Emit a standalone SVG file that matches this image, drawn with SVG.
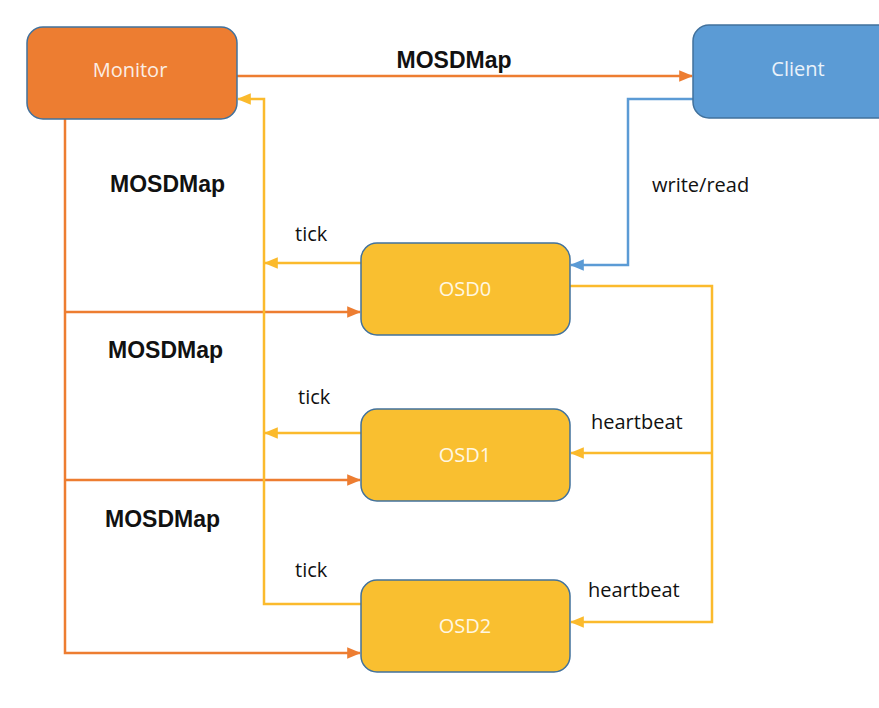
<svg xmlns="http://www.w3.org/2000/svg" width="879" height="708" viewBox="0 0 879 708">
<style>
.node rect{stroke:#41719C;stroke-width:1.5}
.ntxt{font-family:"Open Sans","Liberation Sans",sans-serif;font-size:20px;text-anchor:middle}
.lbl{font-family:"Open Sans","Liberation Sans",sans-serif;font-size:20px;fill:#111}
.big{font-family:"Liberation Sans",Arial,sans-serif;font-size:23px;font-weight:bold;fill:#111}
.c{fill:none;stroke-width:2.5}
.o{stroke:#ED7D31}
.y{stroke:#FBBA2C}
.b{stroke:#5B9BD5}
</style>
<defs>
<marker id="ao" markerUnits="userSpaceOnUse" markerWidth="14" markerHeight="14" viewBox="0 0 12 12" refX="11" refY="6" orient="auto"><path d="M0,1 L12,6 L0,11 Z" fill="#ED7D31"/></marker>
<marker id="ay" markerUnits="userSpaceOnUse" markerWidth="14" markerHeight="14" viewBox="0 0 12 12" refX="11" refY="6" orient="auto"><path d="M0,1 L12,6 L0,11 Z" fill="#FBBA2C"/></marker>
<marker id="ab" markerUnits="userSpaceOnUse" markerWidth="14" markerHeight="14" viewBox="0 0 12 12" refX="11" refY="6" orient="auto"><path d="M0,1 L12,6 L0,11 Z" fill="#5B9BD5"/></marker>
</defs>
<rect width="879" height="708" fill="#fff"/>
<g id="connectors">
<path class="c o" d="M237,76 H692" marker-end="url(#ao)"/>
<path class="c o" d="M65,119 V653 H360" marker-end="url(#ao)"/>
<path class="c o" d="M65,312 H360" marker-end="url(#ao)"/>
<path class="c o" d="M65,480 H360" marker-end="url(#ao)"/>
<path class="c y" d="M361,604 H264 V99 H238" marker-end="url(#ay)"/>
<path class="c y" d="M361,263 H265" marker-end="url(#ay)"/>
<path class="c y" d="M361,433 H265" marker-end="url(#ay)"/>
<path class="c b" d="M693,99 H628 V265 H571" marker-end="url(#ab)"/>
<path class="c y" d="M570,286 H712 V622 H571" marker-end="url(#ay)"/>
<path class="c y" d="M712,453 H571" marker-end="url(#ay)"/>
</g>
<g id="monitor" class="node"><rect x="27" y="27" width="210" height="92" rx="16" fill="#ED7D31"/><text class="ntxt" x="130" y="77" fill="#FBEDE4">Monitor</text></g>
<g id="client" class="node"><rect x="693" y="25" width="210" height="93" rx="16" fill="#5B9BD5"/><text class="ntxt" x="798" y="76" fill="#EAF2FA">Client</text></g>
<g id="osd0" class="node"><rect x="361" y="243" width="209" height="92" rx="16" fill="#F9BF30"/><text class="ntxt" x="465" y="296" fill="#FFF7E2">OSD0</text></g>
<g id="osd1" class="node"><rect x="361" y="409" width="209" height="92" rx="16" fill="#F9BF30"/><text class="ntxt" x="465" y="462" fill="#FFF7E2">OSD1</text></g>
<g id="osd2" class="node"><rect x="361" y="580" width="209" height="92" rx="16" fill="#F9BF30"/><text class="ntxt" x="465" y="633" fill="#FFF7E2">OSD2</text></g>
<g id="labels">
<text class="big" x="454" y="68" text-anchor="middle">MOSDMap</text>
<text class="big" x="110" y="192">MOSDMap</text>
<text class="big" x="108" y="358">MOSDMap</text>
<text class="big" x="105" y="527">MOSDMap</text>
<text class="lbl" x="652" y="192">write/read</text>
<text class="lbl" x="295" y="241">tick</text>
<text class="lbl" x="298" y="404">tick</text>
<text class="lbl" x="295" y="577">tick</text>
<text class="lbl" x="591" y="429">heartbeat</text>
<text class="lbl" x="588" y="597">heartbeat</text>
</g>
</svg>
